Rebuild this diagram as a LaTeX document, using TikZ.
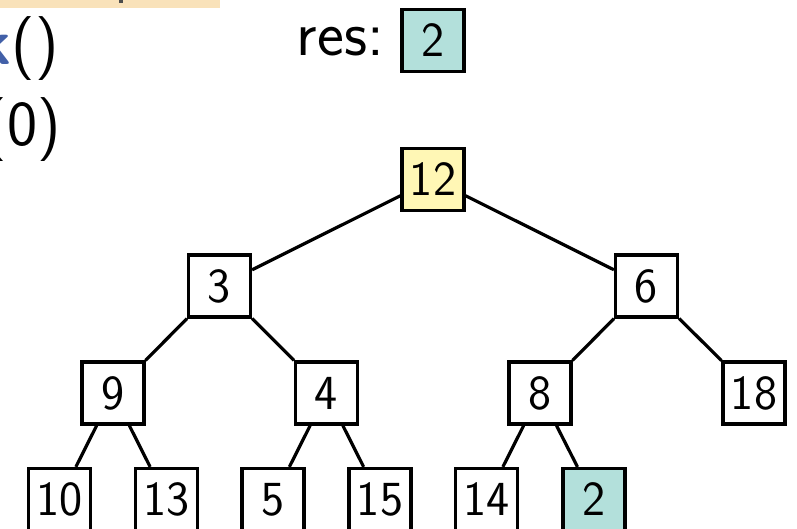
\documentclass[tikz,border=0pt]{standalone}
\usepackage{fontspec}
\begin{document}
\begin{tikzpicture}[x=1pt,y=-1pt,
  hbox/.style={draw=black,line width=3.2pt,fill=white,minimum size=62pt,inner sep=0pt,
    font=\sffamily\fontsize{49}{56}\selectfont},
  conn/.style={draw=black,line width=3.2pt},
  big/.style={inner sep=0pt,font=\sffamily\fontsize{64}{72}\selectfont}]
\definecolor{teal1}{RGB}{179,224,219}
\definecolor{yel1}{RGB}{255,247,181}
\definecolor{ora1}{RGB}{249,226,186}
\definecolor{blu1}{RGB}{66,96,168}
\useasboundingbox (0,0) rectangle (797,529);
\fill[ora1] (0,0) rectangle (220,8);
\fill[black!70] (119,0) rectangle (123,3);
\node[big,anchor=base east] (l1) at (59,65) {\textcolor{blu1}{\bfseries k}()};
\node[big,anchor=base east] (l2) at (61,146) {(0)};
\node[big,anchor=base east] (reslab) at (384,56) {res:};
\node[hbox,fill=teal1] (res) at (433,40.5) {2};
\node[hbox,fill=yel1] (n12) at (433,179.5) {12};
\node[hbox] (n3) at (219.5,286) {3};
\node[hbox] (n6) at (646.5,286) {6};
\node[hbox] (n9) at (113,393) {9};
\node[hbox] (n4) at (326.5,393) {4};
\node[hbox] (n8) at (540,393) {8};
\node[hbox] (n18) at (754,393) {18};
\node[hbox] (n10) at (59.5,499.5) {10};
\node[hbox] (n13) at (166.5,499.5) {13};
\node[hbox] (n5) at (273,499.5) {5};
\node[hbox] (n15) at (380,499.5) {15};
\node[hbox] (n14) at (486.5,499.5) {14};
\node[hbox,fill=teal1] (n2) at (594,499.5) {2};
\draw[conn] (n12) -- (n3);
\draw[conn] (n12) -- (n6);
\draw[conn] (n3) -- (n9);
\draw[conn] (n3) -- (n4);
\draw[conn] (n6) -- (n8);
\draw[conn] (n6) -- (n18);
\draw[conn] (n9) -- (n10);
\draw[conn] (n9) -- (n13);
\draw[conn] (n4) -- (n5);
\draw[conn] (n4) -- (n15);
\draw[conn] (n8) -- (n14);
\draw[conn] (n8) -- (n2);
\end{tikzpicture}
\end{document}
